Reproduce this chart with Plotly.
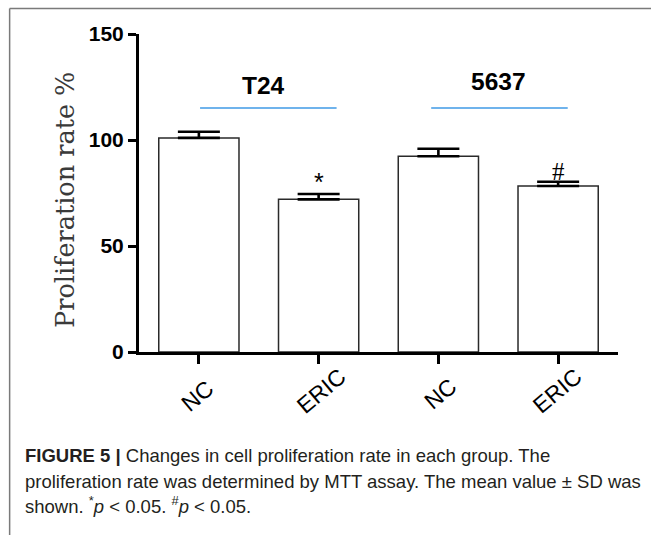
import plotly.graph_objects as go

# ---- data ----
categories = ["NC", "ERIC", "NC", "ERIC"]
means = [101, 72, 92.3, 78.3]
sds = [2.9, 2.5, 3.6, 2.0]
marks = ["", "*", "", "#"]
groups = ["T24", "5637"]
group_centers = [0.54, 2.5]
group_spans = [(0.01, 1.15), (1.94, 3.08)]
y_ticks = [0, 50, 100, 150]

x = list(range(len(categories)))

W, H = 651, 535
L, R, T, B = 138.5, 33, 33.5, 183.3
pw, ph = W - L - R, H - T - B


def px2paper_x(p):
    return (p - L) / pw


def px2paper_y(p):
    return (H - B - p) / ph


fig = go.Figure()
fig.add_trace(go.Bar(
    x=x, y=means, width=0.67,
    marker=dict(color="white", line=dict(color="#2a2a2a", width=1.5)),
    error_y=dict(type="data", array=sds, arrayminus=[0] * len(sds), symmetric=False,
                 color="black", thickness=2.6, width=21),
    showlegend=False, hoverinfo="skip",
))

annotations = []
# significance marks
mark_y = [0, 80, 0, 85]
mark_fonts = [None,
              dict(family="Liberation Sans", size=25, color="black"),
              None,
              dict(family="Liberation Serif", size=25, color="black")]
for i, m in enumerate(marks):
    if m:
        annotations.append(dict(x=x[i], y=mark_y[i], xref="x", yref="y", text=m,
                                showarrow=False, font=mark_fonts[i],
                                xanchor="center", yanchor="middle"))

# group labels and blue lines
group_y = [125.8, 127.4]
shapes = []
for g, c, (a, b), gy in zip(groups, group_centers, group_spans, group_y):
    annotations.append(dict(x=c, y=gy, xref="x", yref="y", text=g, showarrow=False,
                            font=dict(family="Liberation Sans", size=24.5, color="black", weight="bold"),
                            xanchor="center", yanchor="middle"))
    shapes.append(dict(type="line", xref="x", yref="y", x0=a, x1=b, y0=115.1, y1=115.1,
                       line=dict(color="#6fb3ec", width=1.8)))

# rotated category labels
label_px = [(197, 396), (321, 391), (440, 394), (557, 391)]
for i, c in enumerate(categories):
    dx = label_px[i][0] - (L + (x[i] + 0.5) / 4 * pw)
    annotations.append(dict(x=x[i], y=px2paper_y(label_px[i][1]), xref="x", yref="paper",
                            xshift=dx, text=c, showarrow=False, textangle=-40,
                            font=dict(family="Liberation Sans", size=23, color="black"),
                            xanchor="center", yanchor="middle"))

# y axis title
annotations.append(dict(x=px2paper_x(65), y=px2paper_y(200), xref="paper", yref="paper",
                        text="Proliferation rate %", textangle=-90, showarrow=False,
                        font=dict(family="DejaVu Serif", size=25.5, color="#3a3a3a"),
                        xanchor="center", yanchor="middle"))

# caption
cap_lines = [
    "<b>FIGURE 5 |</b> Changes in cell proliferation rate in each group. The",
    "proliferation rate was determined by MTT assay. The mean value ± SD was",
    "shown. <sup>*</sup><i>p</i> &lt; 0.05. <sup>#</sup><i>p</i> &lt; 0.05.",
]
cap_y = [455, 481, 505]
for t, cy in zip(cap_lines, cap_y):
    annotations.append(dict(x=px2paper_x(22), y=px2paper_y(cy), xref="paper", yref="paper",
                            text=t, showarrow=False, align="left",
                            font=dict(family="Liberation Sans", size=18.5, color="#231f20"),
                            xanchor="left", yanchor="middle"))

# frame (left and top border)
shapes.append(dict(type="line", xref="paper", yref="paper",
                   x0=px2paper_x(9), x1=px2paper_x(9), y0=px2paper_y(8), y1=px2paper_y(540),
                   line=dict(color="#7a7a7a", width=1.5)))
shapes.append(dict(type="line", xref="paper", yref="paper",
                   x0=px2paper_x(9), x1=px2paper_x(660), y0=px2paper_y(8), y1=px2paper_y(8),
                   line=dict(color="#7a7a7a", width=1.5)))

fig.update_layout(
    width=W, height=H,
    margin=dict(l=L, r=R, t=T, b=B, pad=0),
    paper_bgcolor="white", plot_bgcolor="white",
    annotations=annotations, shapes=shapes,
    xaxis=dict(range=[-0.5, 3.5], tickvals=x, showticklabels=False,
               showline=True, linecolor="black", linewidth=3,
               ticks="outside", ticklen=9, tickwidth=3, tickcolor="black",
               showgrid=False, zeroline=False, fixedrange=True),
    yaxis=dict(range=[0, 150], tickvals=y_ticks, ticktext=[str(v) for v in y_ticks],
               showline=True, linecolor="black", linewidth=3,
               ticks="outside", ticklen=8, tickwidth=3, tickcolor="black",
               tickfont=dict(family="Liberation Sans", size=21, color="black", weight="bold"),
               showgrid=False, zeroline=False, fixedrange=True),
)

fig.write_html("out.html", config={"displayModeBar": False},
               post_script="document.body.style.margin='0';document.body.style.overflow='hidden';")
